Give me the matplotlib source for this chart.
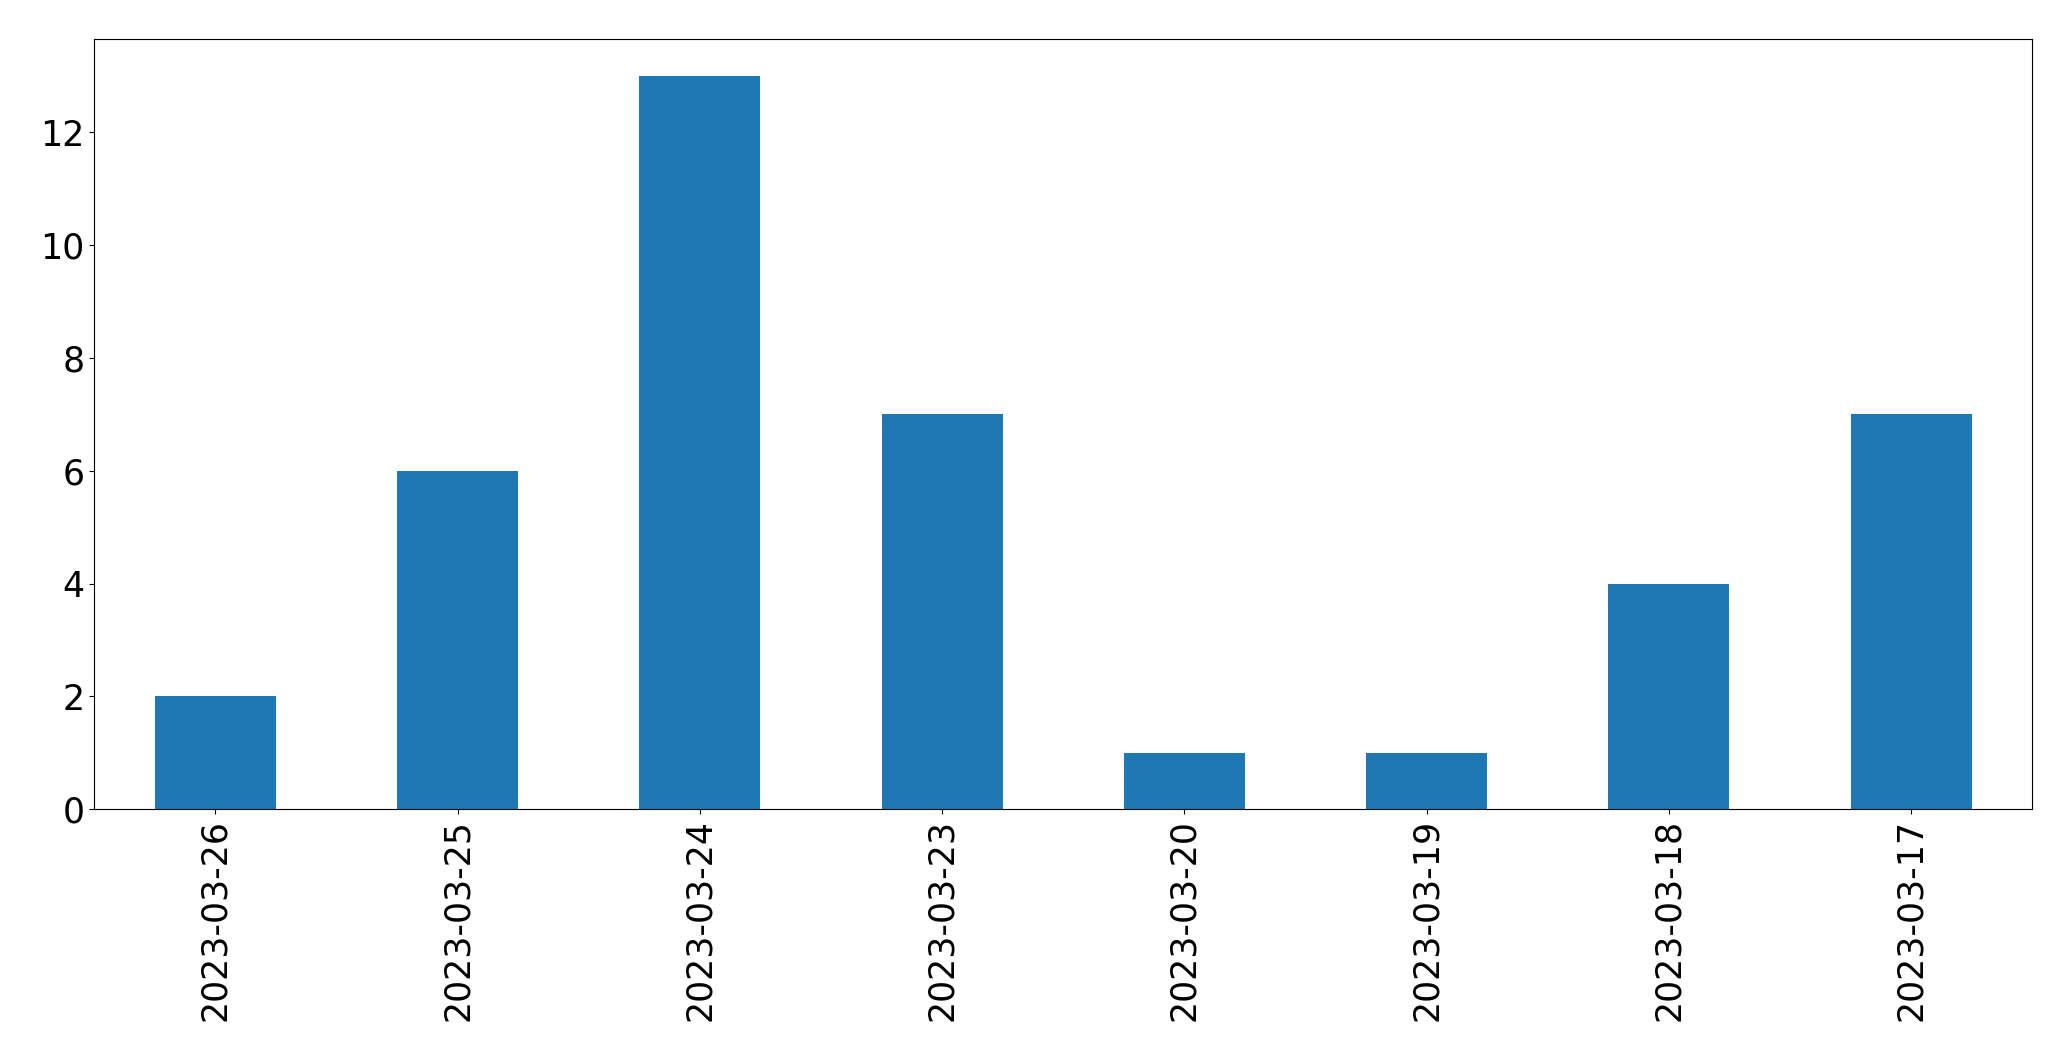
import matplotlib
matplotlib.use("Agg")
import matplotlib.pyplot as plt
import pandas as pd

# dates as they appear on the axis (newest first)
dates = ['2023-03-26', '2023-03-25', '2023-03-24', '2023-03-23',
         '2023-03-20', '2023-03-19', '2023-03-18', '2023-03-17']
counts = [2, 6, 13, 7, 1, 1, 4, 7]

s = pd.Series(counts, index=dates)

fig, ax = plt.subplots(figsize=(20.71, 10.61), dpi=100)
s.plot(kind='bar', ax=ax, color='#1f77b4', fontsize=25)
ax.tick_params(axis='both', labelsize=25)
plt.subplots_adjust(left=0.0455, right=0.9813, top=0.963, bottom=0.2372)
fig.savefig('out.png', dpi=100)
